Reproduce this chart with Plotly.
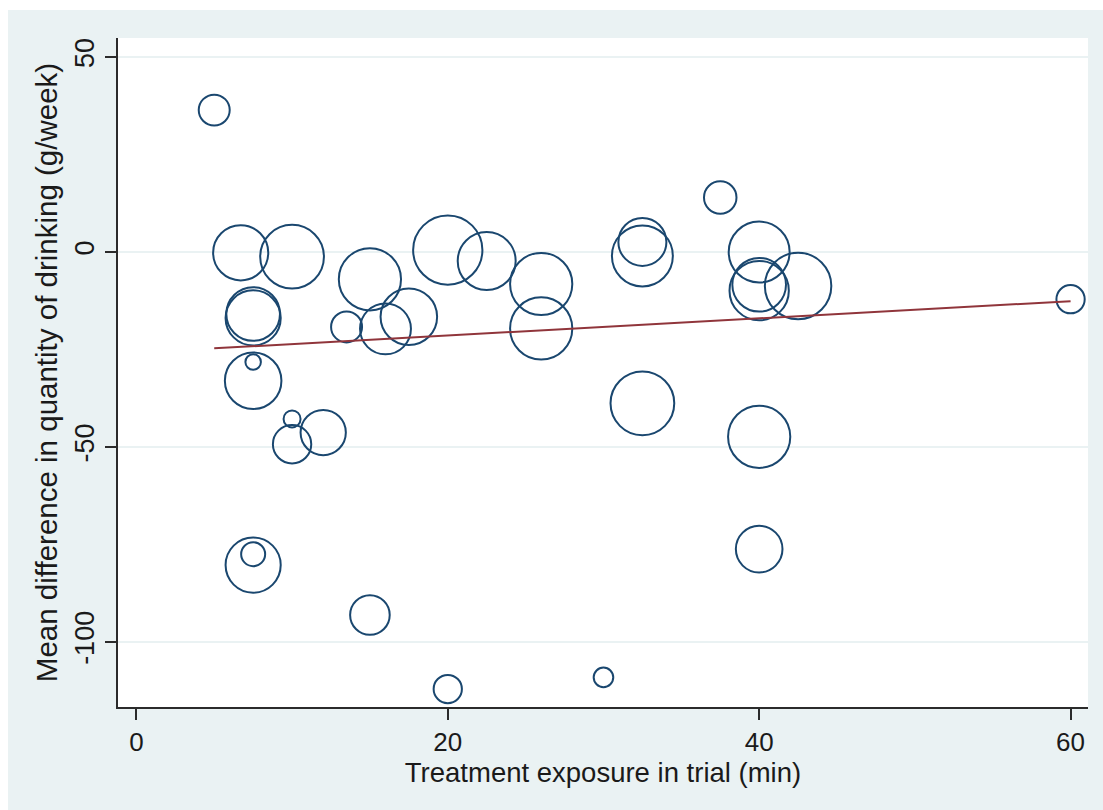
import plotly.graph_objects as go

# Per-trial exposure, effect and meta-analytic weight (bubble area)
exposure_min = [5.0, 6.7, 10.0, 7.5, 7.5, 7.5, 7.5, 10.0, 10.0, 12.0,
                13.5, 15.0, 16.0, 17.5, 20.0, 22.5, 26.0, 26.0, 32.5, 32.5,
                32.5, 37.5, 40.0, 40.0, 40.0, 42.5, 40.0, 40.0, 60.0, 7.5,
                7.5, 15.0, 20.0, 30.0]
mean_diff = [36.4, -0.2, -1.2, -15.9, -16.9, -28.2, -33.0, -42.8, -49.3, -46.3,
             -19.2, -7.0, -19.7, -16.6, 0.5, -2.3, -8.2, -19.6, 2.6, -1.0,
             -38.8, 14.0, 0.0, -8.4, -9.9, -8.7, -47.4, -76.2, -12.1, -80.3,
             -77.5, -93.1, -112.1, -109.1]
study_weight = [30, 95, 127, 90, 95, 7.5, 100, 9, 46, 64,
                30, 121, 81, 100, 150, 105, 121, 121, 72, 116,
                127, 33, 116, 90, 110, 138, 121, 68, 25, 95,
                18, 49, 25, 12]

# Fitted meta-regression line (end points)
fit_exposure = [5, 60]
fit_mean_diff = [-24.7, -12.6]

x_ticks = [0, 20, 40, 60]
y_ticks = [-100, -50, 0, 50]
y_tick_labels = ["-100", "-50", "0", "50"]

NAVY = "#1a476f"
MAROON = "#90353b"
REGION = "#eaf2f3"
AXIS = "#2b2b2b"
FONT = "Liberation Sans, Arial, sans-serif"

W, H = 1103, 810
ML, MR, MT, MB = 118, 15, 38, 103
PW, PH = W - ML - MR, H - MT - MB

fig = go.Figure()
fig.add_trace(go.Scatter(
    x=exposure_min, y=mean_diff, mode="markers",
    marker=dict(size=study_weight, sizemode="area", sizeref=1 / 16, sizemin=0,
                opacity=1, color="rgba(0,0,0,0)",
                line=dict(color=NAVY, width=2)),
    showlegend=False,
))
fig.add_trace(go.Scatter(
    x=fit_exposure, y=fit_mean_diff, mode="lines",
    line=dict(color=MAROON, width=2), showlegend=False,
))

# graph region (light bluish gray) with the plot region painted white on top
fig.add_shape(type="rect", xref="paper", yref="paper", layer="below",
              x0=(8 - ML) / PW, x1=(W + 5 - ML) / PW,
              y0=-(MB + 5) / PH, y1=(H - MB - 10) / PH,
              fillcolor=REGION, line=dict(width=0))
fig.add_shape(type="rect", xref="paper", yref="paper", layer="below",
              x0=0, x1=1, y0=0, y1=1,
              fillcolor="white", line=dict(width=0))

fig.update_layout(
    width=W, height=H, autosize=False,
    margin=dict(l=ML, r=MR, t=MT, b=MB, pad=0),
    paper_bgcolor="white", plot_bgcolor="white",
    font=dict(family=FONT, color="#1a1a1a"),
    xaxis=dict(
        range=[-1.18, 61.12], tickmode="array", tickvals=x_ticks,
        ticks="outside", ticklen=11, tickwidth=1.5, tickcolor=AXIS,
        showline=True, linecolor=AXIS, linewidth=1.5,
        showgrid=False, zeroline=False,
        tickfont=dict(size=26),
        title=dict(text="Treatment exposure in trial (min)",
                   font=dict(size=27.5), standoff=2),
    ),
    yaxis=dict(
        range=[-116.7, 54.9], tickmode="array", tickvals=y_ticks,
        ticktext=y_tick_labels, tickangle=-90,
        ticks="outside", ticklen=11, tickwidth=1.5, tickcolor=AXIS,
        showline=True, linecolor=AXIS, linewidth=1.5,
        showgrid=True, gridcolor=REGION, gridwidth=1.5, zeroline=False,
        tickfont=dict(size=27),
        title=dict(text="Mean difference in quantity of drinking (g/week)",
                   font=dict(size=29.5), standoff=4),
    ),
)

fig.write_html("out.html")
